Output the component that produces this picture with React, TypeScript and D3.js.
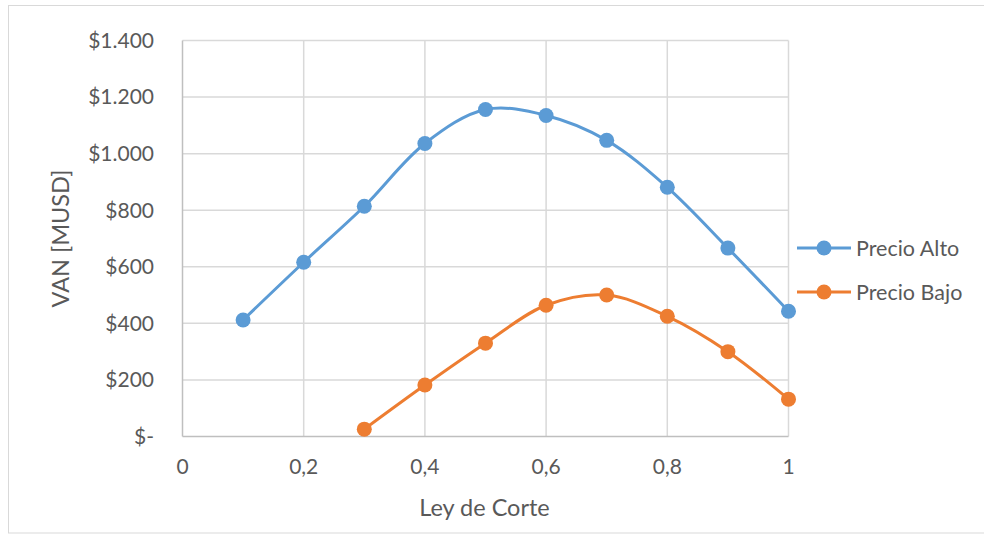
import React from "react";
import * as d3 from "d3";

const xValues = [0.1, 0.2, 0.3, 0.4, 0.5, 0.6, 0.7, 0.8, 0.9, 1.0];
const precioAlto = [412, 616, 814, 1036, 1156, 1135, 1047, 881, 666, 443];
const precioBajoX = [0.3, 0.4, 0.5, 0.6, 0.7, 0.8, 0.9, 1.0];
const precioBajo = [26, 182, 330, 464, 500, 425, 300, 132];
const xTicks = [0, 0.2, 0.4, 0.6, 0.8, 1];
const xTickLabels = ["0", "0,2", "0,4", "0,6", "0,8", "1"];
const yTicks = [0, 200, 400, 600, 800, 1000, 1200, 1400];
const yTickLabels = ["$-", "$200", "$400", "$600", "$800", "$1.000", "$1.200", "$1.400"];
const seriesNames = ["Precio Alto", "Precio Bajo"];
const seriesColors = ["#5B9BD5", "#ED7D31"];

const W = 984;
const H = 534;
const FONT = "Lato, 'Open Sans', sans-serif";
const TXT = "#595959";

export default function App() {
  const x = d3.scaleLinear().domain([0, 1]).range([182.5, 788.5]);
  const y = d3.scaleLinear().domain([0, 1400]).range([436.5, 40.5]);
  const line = d3
    .line<[number, number]>()
    .x((d) => x(d[0]))
    .y((d) => y(d[1]))
    .curve(d3.curveCatmullRom.alpha(0.5));

  const series = [
    xValues.map((v, i) => [v, precioAlto[i]] as [number, number]),
    precioBajoX.map((v, i) => [v, precioBajo[i]] as [number, number]),
  ];

  return (
    <svg
      width={W}
      height={H}
      style={{ position: "absolute", left: 0, top: 0, background: "#fff" }}
      fontFamily={FONT}
    >
      <rect x={8.5} y={5.5} width={990} height={527.5} fill="#fff" stroke="#D9D9D9" strokeWidth={1} />
      {/* grid */}
      {yTicks.slice(1).map((t) => (
        <line key={"gy" + t} x1={x(0)} x2={x(1)} y1={y(t)} y2={y(t)} stroke="#D9D9D9" strokeWidth={1.5} />
      ))}
      {xTicks.slice(1).map((t) => (
        <line key={"gx" + t} x1={x(t)} x2={x(t)} y1={y(0)} y2={y(1400)} stroke="#D9D9D9" strokeWidth={1.5} />
      ))}
      {/* axes */}
      <line x1={x(0)} x2={x(0)} y1={y(0)} y2={y(1400)} stroke="#BFBFBF" strokeWidth={1.5} />
      <line x1={x(0)} x2={x(1)} y1={y(0)} y2={y(0)} stroke="#BFBFBF" strokeWidth={1.5} />
      {/* y tick labels */}
      {yTicks.map((t, i) => (
        <text key={"yt" + t} x={154} y={y(t)} dy="0.35em" textAnchor="end" fontSize={21} fill={TXT}>
          {yTickLabels[i]}
        </text>
      ))}
      {/* x tick labels */}
      {xTicks.map((t, i) => (
        <text key={"xt" + t} x={x(t)} y={474} textAnchor="middle" fontSize={21} fill={TXT}>
          {xTickLabels[i]}
        </text>
      ))}
      {/* axis titles */}
      <text x={484.5} y={516} textAnchor="middle" fontSize={23.5} fill={TXT}>
        Ley de Corte
      </text>
      <text
        transform={`translate(69,238.5) rotate(-90)`}
        textAnchor="middle"
        fontSize={23.5}
        fill={TXT}
      >
        VAN [MUSD]
      </text>
      {/* series */}
      {series.map((s, si) => (
        <g key={"s" + si}>
          <path d={line(s) || ""} fill="none" stroke={seriesColors[si]} strokeWidth={3} />
          {s.map((d, i) => (
            <circle key={i} cx={x(d[0])} cy={y(d[1])} r={7.5} fill={seriesColors[si]} />
          ))}
        </g>
      ))}
      {/* legend */}
      {seriesNames.map((n, i) => (
        <g key={"l" + i} transform={`translate(0,${248 + i * 44})`}>
          <line x1={797} x2={851} y1={0} y2={0} stroke={seriesColors[i]} strokeWidth={3} />
          <circle cx={824} cy={0} r={7.5} fill={seriesColors[i]} />
          <text x={856} y={0} dy="0.35em" fontSize={21.5} fill={TXT}>
            {n}
          </text>
        </g>
      ))}
    </svg>
  );
}
